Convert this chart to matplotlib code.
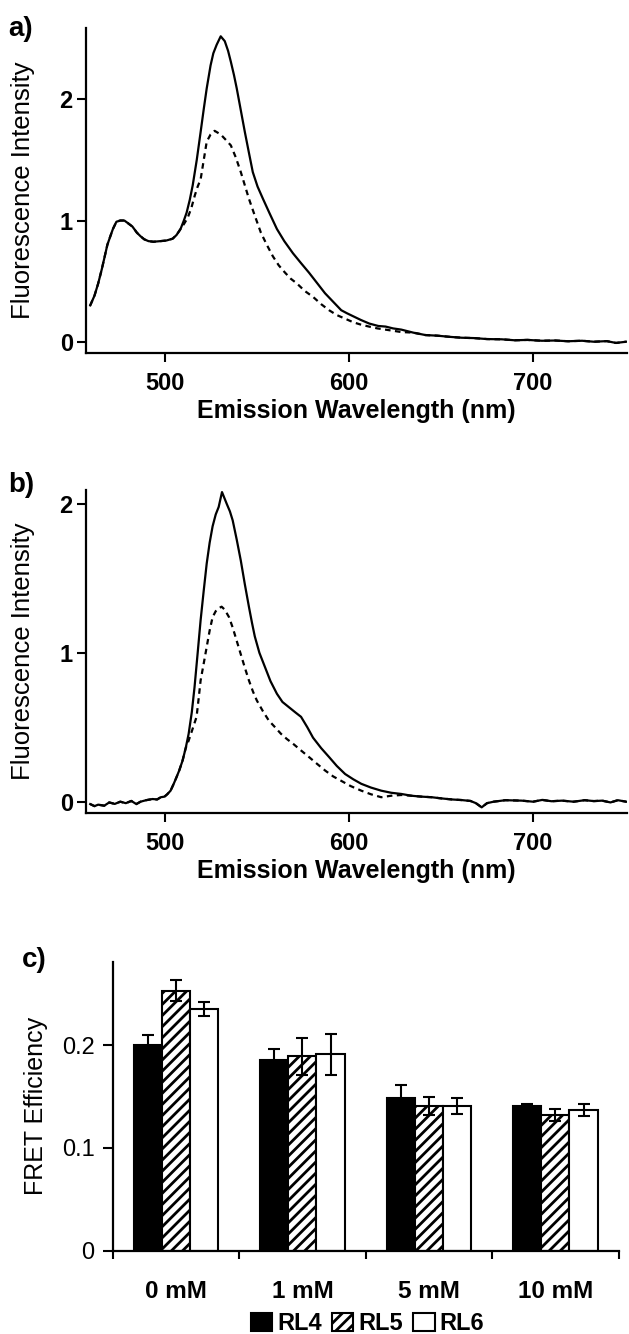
import numpy as np
import matplotlib
matplotlib.use("Agg")
import matplotlib.pyplot as plt

plt.rcParams['font.family'] = ['Liberation Sans', 'DejaVu Sans']
plt.rcParams['hatch.linewidth'] = 2.0

# ---- panel a: spectra ----
a_wl_rise = [459.7, 462, 464, 466, 467.5, 469, 470.6, 472, 473.9, 476, 478.2, 480,
             482.6, 485, 487, 489, 491.3, 494, 497.8, 501, 504.4, 506.5, 508.7]
a_int_rise = [0.30, 0.38, 0.48, 0.60, 0.70, 0.80, 0.87, 0.93, 0.99, 1.00, 1.00, 0.98,
              0.95, 0.90, 0.87, 0.845, 0.83, 0.825, 0.83, 0.835, 0.85, 0.88, 0.93]

a_wl_solid = [510.5, 512, 513.7, 515.3, 517.5, 519.6, 521.3, 522.9, 525, 526.5, 528.3,
              530.5, 532.7, 534.5, 536, 537.7, 539.2, 541.4, 543.6, 545.8, 547.9, 550.5,
              553.4, 557, 561, 565, 569.7, 574, 578.4, 582.5, 587.1, 591.5, 595.9, 599,
              602.4, 606.5, 611.1, 616, 620, 624, 628.5]
a_int_solid = [1.00, 1.065, 1.17, 1.29, 1.50, 1.73, 1.92, 2.09, 2.28, 2.38, 2.45,
               2.52, 2.48, 2.40, 2.31, 2.20, 2.09, 1.91, 1.73, 1.56, 1.40, 1.28,
               1.18, 1.06, 0.93, 0.83, 0.73, 0.65, 0.57, 0.49, 0.40, 0.33, 0.26, 0.235,
               0.21, 0.18, 0.15, 0.13, 0.125, 0.11, 0.10]

a_wl_dash = [510.5, 512.5, 514.5, 516.5, 518, 519.6, 521.3, 522.9, 525, 527.2, 530.5,
             533, 536, 538.7, 541.4, 543.6, 545.8, 549, 552.3, 555.5, 558.8, 562,
             565.4, 568.5, 571.9, 576, 580.6, 585, 589.3, 593.5, 598, 602.5, 606.8,
             611, 615.5, 622, 628.5]
a_int_dash = [0.97, 1.02, 1.10, 1.21, 1.28, 1.34, 1.50, 1.65, 1.71, 1.74, 1.71,
              1.67, 1.62, 1.52, 1.40, 1.29, 1.18, 1.04, 0.90, 0.80, 0.705, 0.63,
              0.57, 0.52, 0.48, 0.42, 0.37, 0.31, 0.26, 0.22, 0.19, 0.16, 0.14,
              0.125, 0.11, 0.095, 0.08]

a_wl_tail = [635, 641.6, 648, 655, 661.2, 668, 675, 683, 690, 697, 704.8, 712, 719,
             726.6, 733, 740, 745, 750.5]
a_int_tail = [0.075, 0.055, 0.05, 0.04, 0.033, 0.03, 0.022, 0.02, 0.012, 0.015, 0.008,
              0.01, 0.004, 0.008, 0.0, 0.005, -0.01, 0.0]

# ---- panel b: spectra ----
b_wl_rise = [459.7, 462, 464, 467.3, 470, 473, 476, 479, 482, 484.7, 487, 490, 493.5,
             496, 498, 500, 501.5, 503.3, 505, 506.5, 508, 509.8, 511.5]
b_int_rise = [-0.016, -0.03, -0.02, -0.027, -0.005, -0.015, 0.0, -0.01, 0.005, -0.016,
              0.0, 0.01, 0.018, 0.015, 0.03, 0.034, 0.05, 0.074, 0.12, 0.164, 0.21,
              0.276, 0.36]

b_wl_solid = [513.1, 514.8, 516.3, 518, 519.6, 521.3, 522.9, 524.5, 526.1, 527.8, 529.4,
              531.2, 532.5, 533.8, 535.5, 537, 539.2, 541.4, 543.6, 545.8, 547.5, 549,
              551.5, 554.5, 557.5, 561, 564, 567.5, 571, 574.1, 577.5, 580.6, 585,
              589.3, 593.5, 598, 602.5, 606.8, 612, 617.6, 623, 628.5]
b_int_solid = [0.456, 0.60, 0.77, 1.00, 1.22, 1.42, 1.60, 1.74, 1.85, 1.93, 1.98,
               2.08, 2.04, 2.00, 1.95, 1.89, 1.76, 1.62, 1.46, 1.31, 1.20, 1.11,
               1.00, 0.905, 0.81, 0.725, 0.67, 0.635, 0.60, 0.57, 0.50, 0.43, 0.36,
               0.30, 0.24, 0.186, 0.15, 0.12, 0.095, 0.074, 0.06, 0.052]

b_wl_dash = [513.1, 515, 517.4, 518.5, 519.6, 521.3, 522.9, 524.5, 526.1, 527.8, 529.4,
             531, 532.7, 535, 537, 539.2, 541.4, 543.6, 545.8, 548, 550.1, 553.3,
             556.6, 560, 563.2, 566.5, 569.7, 574, 578.4, 582.7, 587.1, 591.5, 595.9,
             601, 606.8, 612, 617.6, 623, 628.5]
b_int_dash = [0.41, 0.48, 0.57, 0.69, 0.815, 0.93, 1.04, 1.15, 1.24, 1.28, 1.30,
              1.31, 1.29, 1.24, 1.17, 1.08, 0.99, 0.90, 0.815, 0.74, 0.68, 0.61,
              0.545, 0.50, 0.456, 0.42, 0.39, 0.345, 0.30, 0.255, 0.21, 0.17, 0.14,
              0.105, 0.074, 0.05, 0.03, 0.04, 0.045]

b_wl_tail = [634, 639.4, 645, 650.3, 656, 661.2, 666, 669, 672.1, 675, 678.6, 685,
             693.9, 700, 705, 710, 715.7, 722, 728, 733, 737.5, 742, 746, 750.5]
b_int_tail = [0.04, 0.034, 0.03, 0.022, 0.015, 0.011, 0.005, -0.01, -0.038, -0.01, 0.0,
              0.01, 0.007, 0.0, 0.012, 0.003, 0.007, 0.0, 0.01, 0.004, 0.007, -0.005,
              0.01, 0.0]

# ---- panel c: FRET efficiency ----
conc = ['0 mM', '1 mM', '5 mM', '10 mM']
rl_names = ['RL4', 'RL5', 'RL6']
rl4 = [0.200, 0.186, 0.149, 0.141]
rl5 = [0.253, 0.189, 0.141, 0.132]
rl6 = [0.235, 0.191, 0.141, 0.137]
rl4_err = [0.010, 0.010, 0.012, 0.002]
rl5_err = [0.010, 0.018, 0.009, 0.006]
rl6_err = [0.007, 0.020, 0.008, 0.006]

W, H = 629, 1334
fig = plt.figure(figsize=(W / 100, H / 100), dpi=100)


def px_axes(left, top, right, bottom):
    return fig.add_axes([left / W, 1 - bottom / H, (right - left) / W, (bottom - top) / H])


def spectrum_axes(ax, ylim, yticks):
    ax.set_xlim(457.4, 750.7)
    ax.set_ylim(*ylim)
    ax.set_xticks([500, 600, 700])
    ax.set_yticks(yticks)
    ax.set_yticklabels([str(t) for t in yticks])
    for s in ['top', 'right']:
        ax.spines[s].set_visible(False)
    for s in ['left', 'bottom']:
        ax.spines[s].set_linewidth(1.6)
    ax.tick_params(axis='both', direction='out', length=6.5, width=1.5, labelsize=17)
    ax.tick_params(axis='x', pad=7)
    ax.tick_params(axis='y', pad=3)
    for lab in ax.get_xticklabels() + ax.get_yticklabels():
        lab.set_fontweight('bold')
    ax.set_xlabel('Emission Wavelength (nm)', fontsize=18, fontweight='bold', labelpad=3)
    ax.set_ylabel('Fluorescence Intensity', fontsize=18.5)
    ax.yaxis.set_label_coords(-0.094, 0.5)


# panel a
ax1 = px_axes(86, 28.3, 626.5, 353)
ax1.plot(a_wl_rise + a_wl_dash + a_wl_tail, a_int_rise + a_int_dash + a_int_tail,
         color='black', lw=1.6, ls=(0, (2.5, 2)))
ax1.plot(a_wl_rise + a_wl_solid + a_wl_tail, a_int_rise + a_int_solid + a_int_tail,
         color='black', lw=1.6)
spectrum_axes(ax1, (-0.093, 2.586), [0, 1, 2])
fig.text(8 / W, 1 - 29 / H, 'a)', fontsize=20, fontweight='bold', ha='left', va='center')

# panel b
ax2 = px_axes(86, 490, 626.5, 813.3)
ax2.plot(b_wl_rise + b_wl_dash + b_wl_tail, b_int_rise + b_int_dash + b_int_tail,
         color='black', lw=1.6, ls=(0, (2.5, 2)))
ax2.plot(b_wl_rise + b_wl_solid + b_wl_tail, b_int_rise + b_int_solid + b_int_tail,
         color='black', lw=1.6)
spectrum_axes(ax2, (-0.078, 2.094), [0, 1, 2])
fig.text(8 / W, 1 - 485 / H, 'b)', fontsize=20, fontweight='bold', ha='left', va='center')

# panel c
ax3 = px_axes(112.7, 961.7, 618.7, 1250.5)
x = np.arange(len(conc))
bw = 0.222
styles = [dict(color='black'), dict(color='white', hatch='///'), dict(color='white')]
errs = [rl4_err, rl5_err, rl6_err]
handles = []
for i, (vals, st) in enumerate(zip([rl4, rl5, rl6], styles)):
    b = ax3.bar(x + (i - 1) * bw, vals, bw, edgecolor='black', linewidth=1.5,
                label=rl_names[i], zorder=2, **st)
    handles.append(b)
    ax3.errorbar(x + (i - 1) * bw, vals, yerr=errs[i], fmt='none', ecolor='black',
                 elinewidth=1.5, capsize=4, capthick=1.5, zorder=3)
ax3.set_xlim(-0.5, 3.5)
ax3.set_ylim(0, 0.2813)
ax3.set_yticks([0, 0.1, 0.2])
ax3.set_yticklabels(['0', '0.1', '0.2'])
ax3.set_xticks(x)
ax3.set_xticklabels(conc, fontweight='bold')
ax3.set_xticks(np.arange(-0.5, 4, 1), minor=True)
for s in ['top', 'right']:
    ax3.spines[s].set_visible(False)
for s in ['left', 'bottom']:
    ax3.spines[s].set_linewidth(1.6)
ax3.tick_params(axis='x', which='major', length=0, pad=21, labelsize=17.5)
ax3.tick_params(axis='x', which='minor', length=6, width=1.5, direction='out')
ax3.tick_params(axis='y', length=7, width=1.5, direction='out', pad=6, labelsize=17)
ax3.set_ylabel('FRET Efficiency', fontsize=18)
ax3.yaxis.set_label_coords(-0.128, 0.5)
fig.text(22 / W, 1 - 960 / H, 'c)', fontsize=20, fontweight='bold', ha='left', va='center')

fig.legend(handles=handles, loc='center', bbox_to_anchor=(367.5 / W, 1 - 1324 / H),
           ncol=3, frameon=False, prop={'size': 17, 'weight': 'bold'},
           handlelength=0.9, handleheight=0.77, handletextpad=0.2, columnspacing=0.45,
           borderpad=0, borderaxespad=0)

fig.savefig('out.png', dpi=100)
